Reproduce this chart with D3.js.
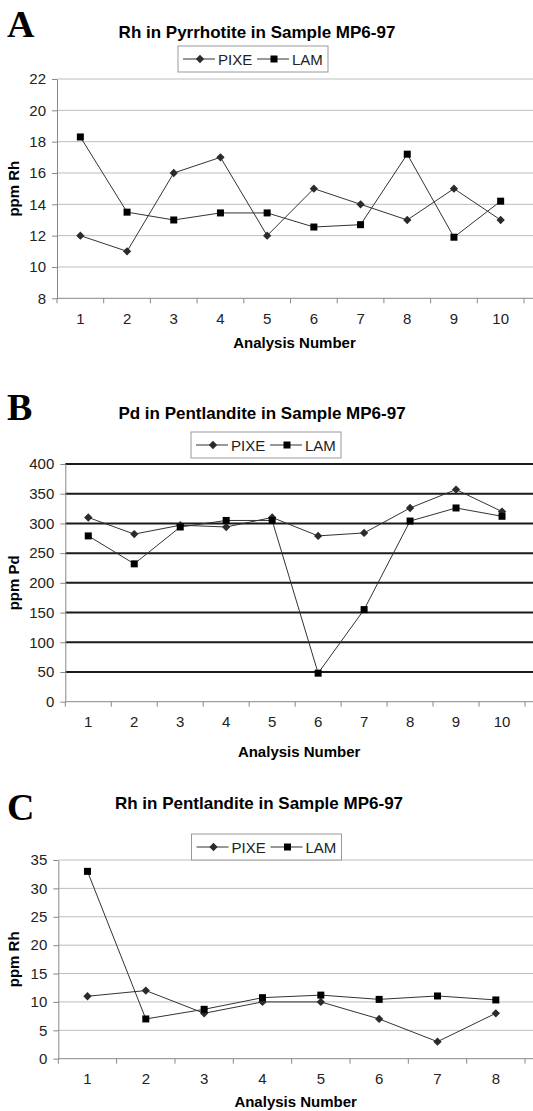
<!DOCTYPE html>
<html>
<head>
<meta charset="utf-8">
<script src="https://cdn.jsdelivr.net/npm/d3@7/dist/d3.min.js"></script>
<style>
  body { margin: 0; background: #fff; }
  svg { display: block; }
</style>
</head>
<body>
<svg id="canvas" width="533" height="1111"></svg>
<script>
// data
const rhPoNums = [1, 2, 3, 4, 5, 6, 7, 8, 9, 10];
const rhPoPixe = [12, 11, 16, 17, 12, 15, 14, 13, 15, 13];
const rhPoLam = [18.3, 13.5, 13.0, 13.45, 13.45, 12.55, 12.7, 17.2, 11.9, 14.2];
const rhPoTicks = [8, 10, 12, 14, 16, 18, 20, 22];

const pdPnNums = [1, 2, 3, 4, 5, 6, 7, 8, 9, 10];
const pdPnPixe = [310, 282, 297, 294, 310, 279, 284, 326, 357, 320];
const pdPnLam = [279, 232, 294, 305, 305, 48, 155, 304, 326, 312];
const pdPnTicks = [0, 50, 100, 150, 200, 250, 300, 350, 400];

const rhPnNums = [1, 2, 3, 4, 5, 6, 7, 8];
const rhPnPixe = [11, 12, 8, 10, 10, 7, 3, 8];
const rhPnLam = [33, 7, 8.7, 10.75, 11.2, 10.45, 11.05, 10.35];
const rhPnTicks = [0, 5, 10, 15, 20, 25, 30, 35];

const SERIES_NAMES = ["PIXE", "LAM"];
const FONT = "'Liberation Sans', Arial, sans-serif";
const LINE_COLOR = "#333";

const CANVAS = d3.select("#canvas");

/**
 * draws a diamond or square marker at x, y
 */
function drawMarker(g, kind, x, y) {
  if (kind === "PIXE") {
    g.append("path")
      .attr("d", d3.symbol(d3.symbolDiamond2, 44)())
      .attr("transform", `translate(${x},${y})`)
      .style("fill", "#2b2b2b");
  } else {
    g.append("rect")
      .attr("x", x - 3.5).attr("y", y - 3.5)
      .attr("width", 7).attr("height", 7)
      .style("fill", "#000");
  }
}

/**
 * draws one panel: letter, title, legend, axes, grid and both series
 */
function drawPanel(p) {
  var g = CANVAS.append("g");

  var x = d3.scaleBand().domain(p.nums).range([p.left, p.right]);
  var y = d3.scaleLinear().domain(d3.extent(p.ticks)).range([p.bottom, p.top]);

  // panel letter
  g.append("text")
    .attr("x", 7).attr("y", p.letterY)
    .style("font-family", "'Liberation Serif', 'Times New Roman', serif")
    .style("font-weight", "bold")
    .style("font-size", "38px")
    .text(p.letter);

  // title
  g.append("text")
    .attr("x", p.titleX).attr("y", p.titleY)
    .attr("text-anchor", "middle")
    .style("font-family", FONT).style("font-weight", "bold").style("font-size", "17px")
    .text(p.title);

  // grid
  g.selectAll(".grid").data(p.ticks.filter(t => t !== p.ticks[0])).enter()
    .append("line")
    .attr("x1", p.left).attr("x2", 533)
    .attr("y1", d => y(d)).attr("y2", d => y(d))
    .style("stroke", p.gridColor).style("stroke-width", p.gridWidth);

  // y axis
  var yAxis = g.append("g")
    .attr("transform", `translate(${p.left},0)`)
    .call(d3.axisLeft(y).tickValues(p.ticks).tickSize(5).tickPadding(6).tickSizeOuter(0));
  yAxis.select(".domain").style("stroke", "#888");
  yAxis.selectAll(".tick line").style("stroke", "#888");
  yAxis.selectAll(".tick text")
    .style("font-family", FONT).style("font-size", "15px").style("fill", "#222");

  // x axis
  var xAxis = g.append("g")
    .attr("transform", `translate(0,${p.bottom})`)
    .call(d3.axisBottom(x).tickSize(0).tickPadding(15));
  xAxis.select(".domain").attr("d", `M${p.left},0H533`).style("stroke", "#888");
  xAxis.selectAll(".tick text")
    .style("font-family", FONT).style("font-size", "15px").style("fill", "#222");
  g.selectAll(".xtick").data(p.nums.concat([null])).enter()
    .append("line")
    .attr("x1", (d, i) => p.left + i * x.step())
    .attr("x2", (d, i) => p.left + i * x.step())
    .attr("y1", p.bottom).attr("y2", p.bottom + 5)
    .style("stroke", "#888");

  // axis titles
  g.append("text")
    .attr("x", (p.left + p.right) / 2 + 4).attr("y", p.bottom + p.xTitleGap)
    .attr("text-anchor", "middle")
    .style("font-family", FONT).style("font-weight", "bold").style("font-size", "15px")
    .text("Analysis Number");
  g.append("text")
    .attr("transform", `translate(19,${(p.top + p.bottom) / 2}) rotate(-90)`)
    .attr("text-anchor", "middle")
    .style("font-family", FONT).style("font-weight", "bold").style("font-size", "15px")
    .text(p.yLabel);

  // series
  var cx = d => x(d) + x.bandwidth() / 2;
  [p.pixe, p.lam].forEach(function (vals, k) {
    var pts = p.nums.map((n, i) => [cx(n), y(vals[i])]);
    g.append("path")
      .attr("d", d3.line()(pts))
      .style("fill", "none").style("stroke", LINE_COLOR).style("stroke-width", 1);
    pts.forEach(pt => drawMarker(g, SERIES_NAMES[k], pt[0], pt[1]));
  });

  // legend
  var lg = g.append("g").attr("transform", `translate(${p.legendX},${p.legendY})`);
  lg.append("rect")
    .attr("x", 0).attr("y", 0).attr("width", 150).attr("height", 26)
    .style("fill", "#fff").style("stroke", "#999");
  [[5, 22, SERIES_NAMES[0]], [79, 22, SERIES_NAMES[1]]].forEach(function (it) {
    lg.append("line")
      .attr("x1", it[0]).attr("x2", it[0] + 32).attr("y1", 13).attr("y2", 13)
      .style("stroke", LINE_COLOR);
    drawMarker(lg, it[2], it[0] + 17, 13);
    lg.append("text")
      .attr("x", it[0] + 35).attr("y", 18.5)
      .style("font-family", FONT).style("font-size", "15px").style("fill", "#222")
      .text(it[2]);
  });
}

drawPanel({
  letter: "A", letterY: 37,
  title: "Rh in Pyrrhotite in Sample MP6-97", titleX: 257, titleY: 38,
  legendX: 178, legendY: 46,
  nums: rhPoNums, pixe: rhPoPixe, lam: rhPoLam, ticks: rhPoTicks,
  left: 57, right: 524, top: 79, bottom: 298.3, xTitleGap: 50,
  gridColor: "#bdbdbd", gridWidth: 1, yLabel: "ppm Rh"
});

drawPanel({
  letter: "B", letterY: 420,
  title: "Pd in Pentlandite in Sample MP6-97", titleX: 262, titleY: 419,
  legendX: 191, legendY: 432,
  nums: pdPnNums, pixe: pdPnPixe, lam: pdPnLam, ticks: pdPnTicks,
  left: 65.3, right: 525, top: 464, bottom: 701.7, xTitleGap: 55,
  gridColor: "#1a1a1a", gridWidth: 2, yLabel: "ppm Pd"
});

drawPanel({
  letter: "C", letterY: 820,
  title: "Rh in Pentlandite in Sample MP6-97", titleX: 259, titleY: 809,
  legendX: 191.5, legendY: 834,
  nums: rhPnNums, pixe: rhPnPixe, lam: rhPnLam, ticks: rhPnTicks,
  left: 58.3, right: 525, top: 860, bottom: 1058.7, xTitleGap: 48,
  gridColor: "#bdbdbd", gridWidth: 1, yLabel: "ppm Rh"
});
</script>
</body>
</html>
